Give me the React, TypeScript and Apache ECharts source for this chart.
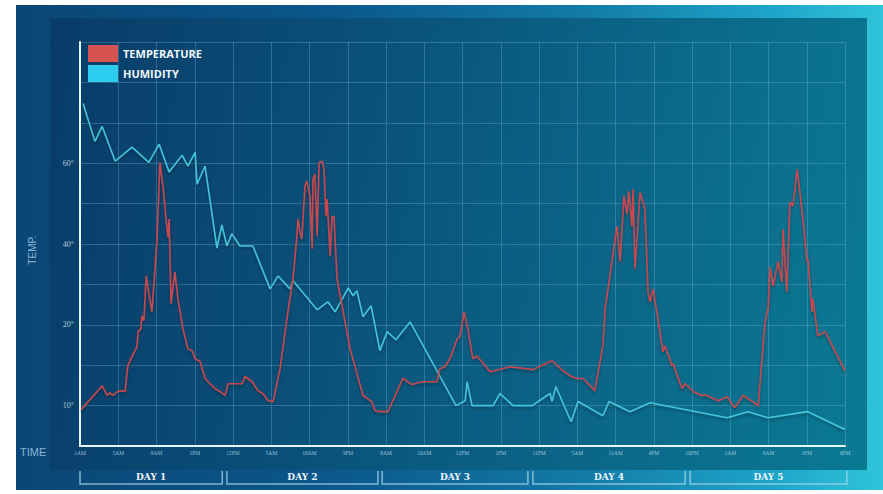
import React, { useEffect, useRef } from "react";
import * as echarts from "echarts";

const timeLabels = ["1AM", "5AM", "9AM", "1PM", "12PM", "5AM", "10AM", "3PM", "8AM", "10AM", "12PM", "1PM", "11PM", "5AM", "11AM", "4PM", "10PM", "1AM", "6AM", "1PM", "6PM"];

const yLabels: Record<number, string> = { 60: "60°", 40: "40°", 20: "20°", 0: "10°" };

const dayNames = ["DAY 1", "DAY 2", "DAY 3", "DAY 4", "DAY 5"];
const dayStart = [0, 3.84, 7.9, 11.84, 15.95];
const dayEnd = [3.72, 7.79, 11.71, 15.82, 20.05];

const temperature: [number, number][] = [
  [0.03, -1.0], [0.58, 4.9], [0.71, 2.5], [0.78, 3.2], [0.86, 2.5], [0.99, 3.5], [1.1, 3.7], [1.18, 3.5],
  [1.25, 9.9], [1.36, 12.1], [1.49, 14.6], [1.52, 18.3], [1.59, 19.0], [1.62, 22.2], [1.67, 21.0],
  [1.73, 32.1], [1.88, 23.2], [2.01, 40.5], [2.09, 60.2], [2.17, 54.3], [2.25, 46.2], [2.3, 41.7],
  [2.33, 46.2], [2.38, 25.2], [2.48, 33.1], [2.56, 26.4], [2.69, 19.0], [2.82, 14.1], [2.93, 13.6],
  [3.01, 11.6], [3.14, 10.9], [3.27, 6.7], [3.4, 5.4], [3.53, 4.2], [3.66, 3.5], [3.79, 2.5], [3.87, 5.4],
  [4.24, 5.4], [4.31, 7.2], [4.5, 5.9], [4.65, 3.7], [4.78, 3.0], [4.92, 1.2], [5.05, 1.0], [5.23, 9.1],
  [5.41, 21.5], [5.44, 23.5], [5.57, 31.4], [5.67, 42.0], [5.7, 46.2], [5.75, 43.0], [5.8, 41.2],
  [5.88, 54.3], [5.93, 55.6], [6.01, 51.9], [6.07, 38.8], [6.09, 56.0], [6.14, 57.3], [6.2, 42.0],
  [6.25, 60.2], [6.33, 60.5], [6.38, 58.5], [6.43, 46.9], [6.46, 51.1], [6.54, 37.0], [6.59, 46.9],
  [6.64, 46.7], [6.72, 31.4], [7.06, 14.1], [7.4, 2.5], [7.63, 1.0], [7.71, -1.2], [7.84, -1.5],
  [8.05, -1.5], [8.44, 6.7], [8.68, 5.2], [8.94, 5.9], [9.33, 5.9], [9.41, 9.1], [9.54, 9.6], [9.67, 11.6],
  [9.86, 16.5], [9.93, 17.0], [10.04, 23.2], [10.14, 19.0], [10.27, 11.6], [10.38, 12.3], [10.72, 8.4],
  [11.24, 9.6], [11.84, 8.9], [12.34, 11.1], [12.63, 8.6], [12.81, 7.4], [12.99, 6.7], [13.15, 6.7],
  [13.46, 3.7], [13.67, 14.8], [13.73, 24.0], [14.04, 44.4], [14.12, 35.6], [14.22, 51.9], [14.3, 47.4],
  [14.35, 53.1], [14.43, 44.4], [14.46, 53.6], [14.51, 33.8], [14.64, 52.8], [14.77, 48.6], [14.85, 28.1],
  [14.9, 25.7], [14.98, 28.9], [15.11, 21.5], [15.24, 13.3], [15.29, 14.8], [15.48, 9.9], [15.5, 10.4],
  [15.74, 4.2], [15.82, 5.4], [16.03, 3.5], [16.26, 2.5], [16.34, 2.7], [16.68, 1.2], [16.92, 2.2],
  [17.12, -0.5], [17.33, 2.5], [17.59, 1.0], [17.73, 0], [17.91, 20.7], [17.99, 24.0], [18.04, 34.3],
  [18.12, 29.6], [18.25, 35.6], [18.35, 30.6], [18.38, 43.7], [18.48, 28.1], [18.56, 50.4], [18.64, 49.4],
  [18.75, 58.5], [18.82, 52.8], [18.9, 46.2], [19.01, 35.6], [19.03, 36.3], [19.14, 23.2], [19.16, 26.4],
  [19.29, 17.3], [19.48, 18.3], [20.0, 8.6]
];

const humidity: [number, number][] = [
  [0.08, 74.8], [0.39, 65.4], [0.58, 69.1], [0.92, 60.5], [1.36, 64.0], [1.8, 60.2], [2.07, 64.7],
  [2.33, 57.8], [2.67, 62.0], [2.82, 59.3], [3.01, 62.7], [3.06, 54.8], [3.27, 59.3], [3.58, 39.0],
  [3.71, 44.7], [3.84, 39.5], [3.97, 42.5], [4.18, 39.5], [4.52, 39.5], [4.97, 28.9], [5.18, 32.1],
  [5.49, 28.9], [5.57, 30.9], [6.2, 23.7], [6.48, 25.7], [6.67, 23.2], [7.01, 29.1], [7.14, 27.2],
  [7.24, 28.4], [7.4, 22.0], [7.61, 24.7], [7.84, 13.6], [8.03, 18.3], [8.26, 16.3], [8.63, 20.7],
  [9.83, 0], [10.07, 1.2], [10.12, 5.9], [10.25, 0], [10.8, 0], [10.98, 3.0], [11.32, 0], [11.82, 0],
  [12.29, 3.0], [12.34, 1.0], [12.44, 4.7], [12.84, -4.0], [13.02, 1.0], [13.67, -2.5], [13.83, 1.0],
  [14.38, -1.5], [14.9, 0.7], [16.92, -3.0], [17.46, -1.5], [17.99, -3.0], [19.03, -1.5], [20.0, -5.9]
];

export default function App() {
  const ref = useRef<HTMLDivElement>(null);
  useEffect(() => {
    const chart = echarts.init(ref.current!, null, { renderer: "svg" });
    chart.setOption({
      animation: false,
      backgroundColor: "transparent",
      grid: { left: 80, right: 38, top: 42, height: 404 },
      legend: {
        orient: "vertical",
        left: 88,
        top: 45,
        padding: 0,
        itemWidth: 30,
        itemHeight: 17,
        itemGap: 3,
        textStyle: { color: "#f2f8fc", fontFamily: "Open Sans", fontWeight: "bold", fontSize: 11 },
        data: [
          { name: "TEMPERATURE", icon: "rect", itemStyle: { color: "#d65450" } },
          { name: "HUMIDITY", icon: "rect", itemStyle: { color: "#2ccdee" } }
        ]
      },
      xAxis: {
        type: "value",
        min: 0,
        max: 20,
        interval: 1,
        axisLine: { show: true, onZero: false, lineStyle: { color: "#e6f5fc", width: 2 } },
        axisTick: { show: false },
        splitLine: { show: true, lineStyle: { color: "rgba(140,205,230,0.28)", width: 1 } },
        axisLabel: {
          color: "rgba(200,225,240,0.75)",
          fontSize: 5.5,
          fontFamily: "Liberation Serif",
          margin: 4,
          formatter: (v: number) => timeLabels[Math.round(v)] ?? ""
        }
      },
      yAxis: {
        type: "value",
        min: -10,
        max: 90,
        interval: 10,
        axisLine: { show: true, onZero: false, lineStyle: { color: "#e6f5fc", width: 2 } },
        axisTick: { show: false },
        splitLine: { show: true, lineStyle: { color: "rgba(140,205,230,0.28)", width: 1 } },
        axisLabel: {
          color: "#b3cddf",
          fontSize: 8,
          fontFamily: "Liberation Serif",
          margin: 6,
          formatter: (v: number) => yLabels[v] ?? ""
        }
      },
      series: [
        {
          name: "TEMPERATURE",
          type: "line",
          data: temperature,
          symbol: "none",
          lineStyle: { color: "#c9474d", width: 1.6, shadowColor: "rgba(0,0,0,0.35)", shadowBlur: 3, shadowOffsetY: 2 },
          itemStyle: { color: "#d65450" },
          z: 3
        },
        {
          name: "HUMIDITY",
          type: "line",
          data: humidity,
          symbol: "none",
          lineStyle: { color: "#45c3d9", width: 1.6, shadowColor: "rgba(0,0,0,0.35)", shadowBlur: 3, shadowOffsetY: 2 },
          itemStyle: { color: "#2ccdee" },
          z: 2
        }
      ]
    });

    const px = (v: number) => chart.convertToPixel({ xAxisIndex: 0 }, v) as number;
    const graphics: any[] = [
      {
        type: "text",
        x: 32,
        y: 250,
        rotation: Math.PI / 2,
        style: { text: "TEMP.", fill: "#8db5d2", font: '10px "Liberation Sans"', align: "center", verticalAlign: "middle" }
      },
      {
        type: "text",
        x: 20,
        y: 452,
        style: { text: "TIME", fill: "#8db5d2", font: '11px "Liberation Sans"', align: "left", verticalAlign: "middle" }
      }
    ];
    dayNames.forEach((name, i) => {
      const x1 = px(dayStart[i]);
      const x2 = px(dayEnd[i]);
      graphics.push({
        type: "polyline",
        shape: { points: [[x1, 471], [x1, 484], [x2, 484], [x2, 471]] },
        style: { stroke: "rgba(170,215,235,0.75)", lineWidth: 1.5, fill: null }
      });
      graphics.push({
        type: "text",
        x: (x1 + x2) / 2,
        y: 477,
        style: { text: name, fill: "#eef7fb", font: 'bold 9px "DejaVu Serif"', align: "center", verticalAlign: "middle" }
      });
    });
    chart.setOption({ graphic: graphics });

    return () => chart.dispose();
  }, []);

  return (
    <div style={{ position: "fixed", left: 0, top: 0, width: 883, height: 494, background: "#ffffff", overflow: "hidden" }}>
      <div
        style={{
          position: "absolute",
          left: 16,
          top: 5,
          width: 867,
          height: 485,
          background: "linear-gradient(90deg, #0a4676 0%, #0b568a 35%, #127aa6 65%, #1fa6cb 88%, #2fc4d9 100%)"
        }}
      />
      <div
        style={{
          position: "absolute",
          left: 50,
          top: 18,
          width: 817,
          height: 452,
          background: "linear-gradient(100deg, #083c68 0%, #0a5079 35%, #0b6487 65%, #0a7a93 100%)"
        }}
      />
      <div ref={ref} style={{ position: "absolute", left: 0, top: 0, width: 883, height: 494 }} />
    </div>
  );
}
